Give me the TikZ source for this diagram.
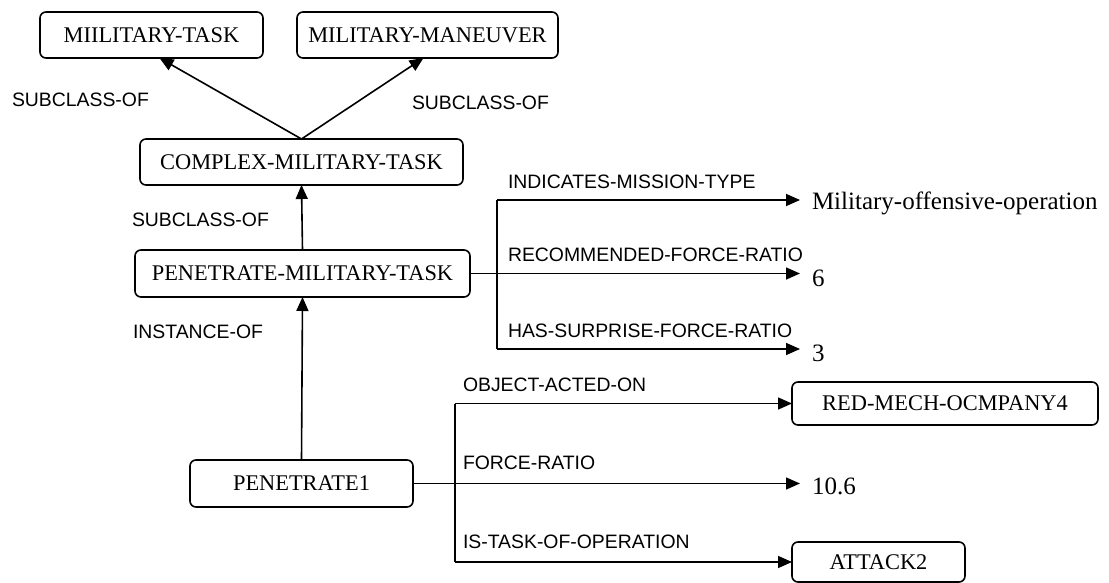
\documentclass[tikz,border=0pt]{standalone}
\usepackage{fontspec}
\setmainfont{Liberation Serif}
\setsansfont{Liberation Sans}
\usetikzlibrary{positioning}
\usetikzlibrary{arrows.meta}

\begin{document}
\begin{tikzpicture}[
    x=0.5pt, y=-0.5pt,
    every node/.style={
        inner sep=0pt,
        outer sep=0pt,
    },
    concept/.style n args={2}{
        draw,rectangle,
        line width=.8pt,
        rounded corners=3pt,
        minimum width=#1pt,
        minimum height=#2pt,
        font=\fontsize{11.2}{13}\selectfont,
    },
    rel/.style={
        anchor=west,
        font=\sffamily\fontsize{9.7}{11}\selectfont,
    },
    value/.style={
        anchor=west,
        inner xsep=6pt,
        font=\fontsize{12.5}{15}\selectfont,
    },
    link/.style={
        line width=.8pt,
        -{Triangle[length=7pt,width=6pt]},
    },
    branch/.style={
        line width=.8pt,
    },
]
    \useasboundingbox (0,0) rectangle (1109,583);
    \newcommand\rellab[3]{\node[rel] (#1) at (#2) {#3}}

    % ~~~ concepts ~~~~~~~~~~~~~~~~~~~~~~~~~~~~~~~~~~~~~~~~~~~~~~
    \node[concept={111.5}{23}]   (mt)  at (151.5,35)   {MIILITARY-TASK};
    \node[concept={130.5}{23}]   (mm)  at (427.5,35)   {MILITARY-MANEUVER};
    \node[concept={161.5}{23}]   (cmt) at (301.5,162)  {COMPLEX-MILITARY-TASK};
    \node[concept={167.5}{23.5}] (pmt) at (302.5,273.5) {PENETRATE-MILITARY-TASK};
    \node[concept={111.5}{23.5}] (pen) at (301.5,483.5) {PENETRATE1};
    \node[concept={153}{21.5}]   (red) at (945,403.5)  {RED-MECH-OCMPANY4};
    \node[concept={86.5}{20}]    (att) at (878.5,562)  {ATTACK2};

    % ~~~ values ~~~~~~~~~~~~~~~~~~~~~~~~~~~~~~~~~~~~~~~~~~~~~~~~~
    \node[value] (vmil) at (800,203) {Military-offensive-operation};
    \node[value] (v6)   at (800,278) {6};
    \node[value] (v3)   at (800,353) {3};
    \node[value] (v106) at (800,486) {10.6};

    % ~~~ relation labels ~~~~~~~~~~~~~~~~~~~~~~~~~~~~~~~~~~~~~~~~
    \rellab{lsuba}{12,100}{SUBCLASS-OF};
    \rellab{lsubb}{412,103}{SUBCLASS-OF};
    \rellab{lsubc}{132,220}{SUBCLASS-OF};
    \rellab{linst}{133,332}{INSTANCE-OF};
    \rellab{lind}{508,182}{INDICATES-MISSION-TYPE};
    \rellab{lrec}{508,255}{RECOMMENDED-FORCE-RATIO};
    \rellab{lhas}{508,331}{HAS-SURPRISE-FORCE-RATIO};
    \rellab{lobj}{463,385}{OBJECT-ACTED-ON};
    \rellab{lfor}{463,463}{FORCE-RATIO};
    \rellab{ltask}{463,542}{IS-TASK-OF-OPERATION};

    % ~~~ hierarchy ~~~~~~~~~~~~~~~~~~~~~~~~~~~~~~~~~~~~~~~~~~~~~~
    \draw[link] (cmt.north) -- ([xshift=4pt]mt.south);
    \draw[link] (cmt.north) -- ([xshift=-2pt]mm.south);
    \draw[link] (pmt.north) -- (cmt.south);
    \draw[link] (pen.north) -- (pmt.south);

    % ~~~ slots of the task class ~~~~~~~~~~~~~~~~~~~~~~~~~~~~~~~~~
    \coordinate (ubt) at (497,200);
    \coordinate (ubb) at (497,349);
    \draw[branch] (ubt) -- (ubb);
    \draw[link] (ubt) -- (ubt -| vmil.west);
    \draw[link] (pmt.east) -- (pmt.east -| v6.west);
    \draw[link] (ubb) -- (ubb -| v3.west);

    % ~~~ slots of the instance ~~~~~~~~~~~~~~~~~~~~~~~~~~~~~~~~~~~
    \coordinate (lbt) at (455,403.5);
    \coordinate (lbb) at (455,562);
    \draw[branch] (lbt) -- (lbb);
    \draw[link] (lbt) -- (red.west);
    \draw[link] (pen.east) -- (pen.east -| v106.west);
    \draw[link] (lbb) -- (att.west);
\end{tikzpicture}
\end{document}
